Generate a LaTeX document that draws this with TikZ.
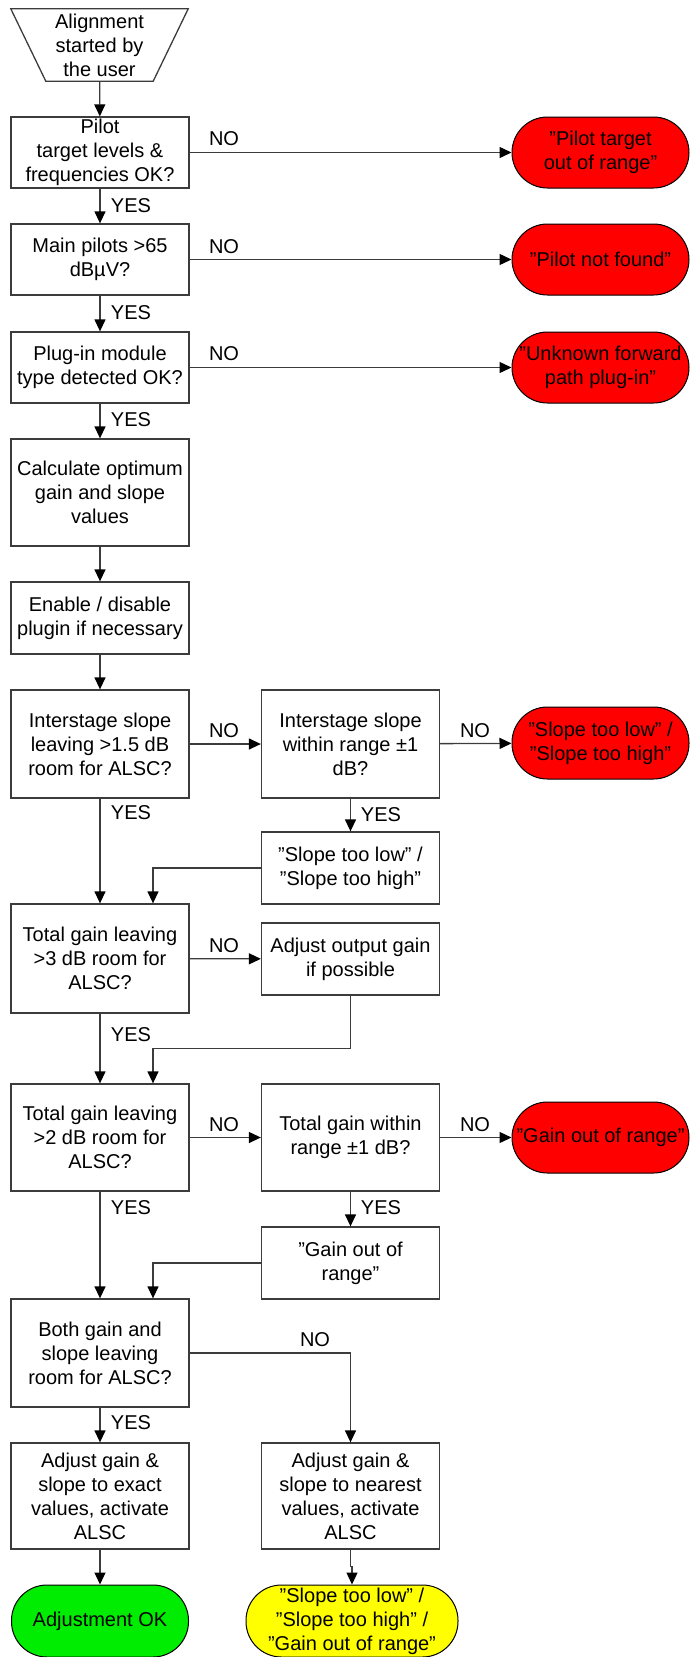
\documentclass[tikz,border=0pt]{standalone}
\usepackage{fontspec}
\setmainfont{Liberation Sans}
\usetikzlibrary{arrows.meta}
\definecolor{lc}{RGB}{60,60,60}
\definecolor{redfill}{RGB}{255,0,0}
\definecolor{greenfill}{RGB}{0,236,0}
\definecolor{yellowfill}{RGB}{255,255,0}
\begin{document}
\begin{tikzpicture}[x=1pt,y=-1pt,
  font=\fontsize{20}{24}\selectfont,
  box/.style={draw=lc, line width=1.3pt, rectangle, align=center, inner sep=0pt, minimum width=178pt},
  term/.style={draw=black, line width=1pt, rectangle, rounded corners=35.5pt, align=center, inner sep=0pt, minimum width=177pt, minimum height=71pt},
  arr/.style={draw=lc, line width=1.3pt, -{Triangle[length=12pt,width=11pt,color=black]}},
  lbl/.style={inner sep=0pt}
]
\useasboundingbox (0,0) rectangle (690,1657);

% start
\node[align=center, inner sep=0pt, minimum width=177pt, minimum height=72pt] (start) at (99.5,45) {Alignment\\started by\\the user};
\draw[lc, line width=1.3pt] (start.north west) -- (start.north east) -- ([xshift=-35pt]start.south east) -- ([xshift=35pt]start.south west) -- cycle;

% left column
\node[box, minimum height=71pt] (b1) at (100,152.5) {Pilot\\target levels \&\\frequencies OK?};
\node[box, minimum height=71pt] (b2) at (100,259.5) {Main pilots >65\\dBµV?};
\node[box, minimum height=71pt] (b3) at (100,367.5) {Plug-in module\\type detected OK?};
\node[box, minimum height=107pt] (b4) at (100,492.5) {Calculate optimum\\gain and slope\\values};
\node[box, minimum height=72pt] (b5) at (100,618) {Enable / disable\\plugin if necessary};
\node[box, minimum height=108pt] (b6) at (100,744) {Interstage slope\\leaving >1.5 dB\\room for ALSC?};
\node[box, minimum height=109pt] (b7) at (100,958.5) {Total gain leaving\\>3 dB room for\\ALSC?};
\node[box, minimum height=107pt] (b8) at (100,1137.5) {Total gain leaving\\>2 dB room for\\ALSC?};
\node[box, minimum height=108pt] (b9) at (100,1353) {Both gain and\\slope leaving\\room for ALSC?};
\node[box, minimum height=106pt] (b10) at (100,1496) {Adjust gain \&\\slope to exact\\values, activate\\ALSC};

% middle column
\node[box, minimum height=108pt] (m1) at (350.5,744) {Interstage slope\\within range ±1\\dB?};
\node[box, minimum height=72pt] (m2) at (350.5,868) {”Slope too low” /\\”Slope too high”};
\node[box, minimum height=72pt] (adj) at (350.5,959) {Adjust output gain\\if possible};
\node[box, minimum height=107pt] (m3) at (350.5,1137.5) {Total gain within\\range ±1 dB?};
\node[box, minimum height=72pt] (m4) at (350.5,1263) {”Gain out of\\range”};
\node[box, minimum height=106pt] (b11) at (350.5,1496) {Adjust gain \&\\slope to nearest\\values, activate\\ALSC};

% terminals
\node[term, fill=redfill] (r1) at (600.5,152.5) {”Pilot target\\out of range”};
\node[term, fill=redfill] (r2) at (600.5,259.5) {”Pilot not found”};
\node[term, fill=redfill] (r3) at (600.5,367.5) {”Unknown forward\\path plug-in”};
\node[term, fill=redfill, minimum height=72pt] (r4) at (600.5,743) {”Slope too low” /\\”Slope too high”};
\node[term, fill=redfill] (r5) at (600.5,1137.5) {”Gain out of range”};
\node[term, fill=greenfill, minimum height=72pt] (grn) at (100,1621) {Adjustment OK};
\node[term, fill=yellowfill, minimum width=212pt, minimum height=72pt] (yel) at (352,1621) {”Slope too low” /\\”Slope too high” /\\”Gain out of range”};

% connectors
\draw[arr] (start) -- (b1);
\draw[arr] (b1) -- (b2);
\draw[arr] (b2) -- (b3);
\draw[arr] (b3) -- (b4);
\draw[arr] (b4) -- (b5);
\draw[arr] (b5) -- (b6);
\draw[arr] (b6) -- (b7);
\draw[arr] (b7) -- (b8);
\draw[arr] (b8) -- (b9);
\draw[arr] (b9) -- (b10);
\draw[arr] (b10) -- (grn);

\draw[arr] (b1) -- (r1);
\draw[arr] (b2) -- (r2);
\draw[arr] (b3) -- (r3);
\draw[arr] (b6) -- (m1);
\draw[arr] (m1) -- (r4);
\draw[arr] (m1) -- (m2);
\draw[arr] (m2.west) -| ([xshift=53pt]b7.north);
\draw[arr] (b7) -- (adj);
\draw[arr] (adj.south) -- ++(0,53) -| ([xshift=53pt]b8.north);
\draw[arr] (b8) -- (m3);
\draw[arr] (m3) -- (r5);
\draw[arr] (m3) -- (m4);
\draw[arr] (m4.west) -| ([xshift=53pt]b9.north);
\draw[arr] (b9.east) -| (b11.north);
\draw[arr] (b11.south) -- ++(0,17) -| (yel.north);

% labels
\node[lbl] (y1) at (131,206) {YES};
\node[lbl] (y2) at (131,313) {YES};
\node[lbl] (y3) at (131,420) {YES};
\node[lbl] (y4) at (131,813) {YES};
\node[lbl] (y5) at (131,1035) {YES};
\node[lbl] (y6) at (131,1208) {YES};
\node[lbl] (y7) at (131,1423) {YES};
\node[lbl] (y8) at (381,815) {YES};
\node[lbl] (y9) at (381,1208) {YES};
\node[lbl] (n1) at (224,139) {NO};
\node[lbl] (n2) at (224,247) {NO};
\node[lbl] (n3) at (224,354) {NO};
\node[lbl] (n4) at (224,731) {NO};
\node[lbl] (n5) at (224,946) {NO};
\node[lbl] (n6) at (224,1125) {NO};
\node[lbl] (n7) at (475,731) {NO};
\node[lbl] (n8) at (475,1125) {NO};
\node[lbl] (n9) at (315,1340) {NO};
\end{tikzpicture}
\end{document}
